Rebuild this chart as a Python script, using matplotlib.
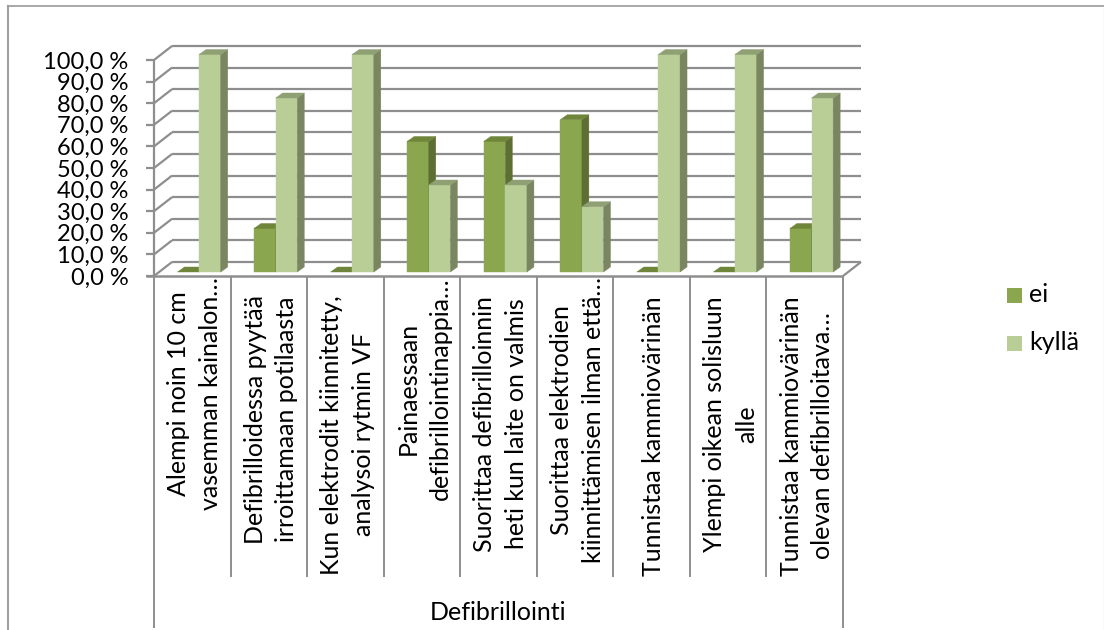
# Defibrillointi: osuus vastauksista (ei / kyllä) kysymyksittäin, 3D-tyylinen pylväskaavio.

import matplotlib
matplotlib.use('Agg')
import matplotlib.pyplot as plt
from matplotlib.patches import Polygon, Rectangle

plt.rcParams['font.family'] = ['Lato', 'DejaVu Sans']

kategoriat = [
    'Alempi noin 10 cm\nvasemman kainalon…',
    'Defibrilloidessa pyytää\nirroittamaan potilaasta',
    'Kun elektrodit kiinnitetty,\nanalysoi rytmin VF',
    'Painaessaan\ndefibrillointinappia…',
    'Suorittaa defibrilloinnin\nheti kun laite on valmis',
    'Suorittaa elektrodien\nkiinnittämisen ilman että…',
    'Tunnistaa kammiovärinän',
    'Ylempi oikean solisluun\nalle',
    'Tunnistaa kammiovärinän\nolevan defibrilloitava…',
]
ei = [0, 20, 0, 60, 60, 70, 0, 0, 20]
kylla = [100, 80, 100, 40, 40, 30, 100, 100, 80]
y_tikit = [0, 10, 20, 30, 40, 50, 60, 70, 80, 90, 100]
y_tekstit = ['%d,0 %%' % v for v in y_tikit]

# kategoriatekstien yläreunat pikseleinä
tekstin_ylaosa = [277, 295, 295, 277, 296, 277, 296, 296, 296]

W, H = 1104, 630
HARMAA = '#8e8e8e'

fig = plt.figure(figsize=(W / 100, H / 100), dpi=100)

# Etutaso: akseli kulkee pikseleistä x 154-843, y 276-60
ax = fig.add_axes([154 / W, 1 - 276 / H, (843 - 154) / W, (276 - 60) / H])
ax.set_xlim(0, 9)
ax.set_ylim(0, 100)
ax.axis('off')

# muunnokset: 1 px akselin yksiköissä
px_x = 9 / (843 - 154)
px_y = 100 / (276 - 60)
syv_x, syv_y = 18 * px_x, 14 * px_y


def pinta(kulmat, vari, z=3):
    ax.add_patch(Polygon(kulmat, closed=True, facecolor=vari, edgecolor=vari,
                         linewidth=0.3, clip_on=False, zorder=z))


def viiva(xs, ys, lw=1.6, vari=HARMAA, z=1):
    ax.plot(xs, ys, color=vari, lw=lw, clip_on=False, zorder=z, solid_capstyle='butt')


# taustan ruudukko ja vasen seinä
for v in y_tikit:
    viiva([syv_x, 9 + syv_x], [v + syv_y, v + syv_y])
    viiva([0, syv_x], [v, v + syv_y])
    viiva([-8 * px_x, 0], [v, v])
viiva([0, 0], [0, 100], lw=1.6)
viiva([9, 9 + syv_x], [0, syv_y])

# pylväät
lev = 21.6 * px_x
siirto = 23.5 * px_x
bx, by = 7 * px_x, 5 * px_y
pohja = 4 * px_y


def pylvas(x0, arvo, etu, kylki, katto, z):
    y0 = pohja
    y1 = pohja + arvo * 1.007
    x1 = x0 + lev
    if arvo > 0:
        pinta([(x0, y0), (x1, y0), (x1, y1), (x0, y1)], etu, z)
        pinta([(x1, y0), (x1 + bx, y0 + by), (x1 + bx, y1 + by), (x1, y1)], kylki, z)
    pinta([(x0, y1), (x1, y1), (x1 + bx, y1 + by), (x0 + bx, y1 + by)], katto, z)


for i in range(len(kategoriat)):
    x0 = i + siirto
    pylvas(x0, ei[i], '#8aa64e', '#5e6f33', '#6f8539', 3)
    pylvas(x0 + lev, kylla[i], '#b9ce97', '#7a8561', '#8fa074', 4)

# x-akseli ja kategoriarajat
viiva([-8 * px_x, 9], [0, 0], lw=1.8, z=5)
ala = -(577 - 276) * px_y
for i in range(10):
    pohjaraja = -(628 - 276) * px_y if i in (0, 9) else ala
    viiva([i, i], [0, pohjaraja], lw=1.4, z=5)

# akselien tekstit
for v, t in zip(y_tikit, y_tekstit):
    ax.text(-25.5 * px_x, v - 2 * px_y, t, ha='right', va='center', fontsize=17,
            color='#000000', clip_on=False)

for i, t in enumerate(kategoriat):
    ax.text(i + 0.53, -(tekstin_ylaosa[i] - 276) * px_y, t, rotation=90, ha='center', va='top',
            multialignment='center', fontsize=18, linespacing=1.46, color='#000000', clip_on=False)

ax.text(4.5, -(612 - 276) * px_y, 'Defibrillointi', ha='center', va='center', fontsize=18, color='#000000')

# selite
fig.patches.append(Rectangle((1007 / W, 1 - 303 / H), 15 / W, 15 / H, transform=fig.transFigure,
                             facecolor='#8aa64e', edgecolor='none'))
fig.patches.append(Rectangle((1007 / W, 1 - 351 / H), 15 / W, 15 / H, transform=fig.transFigure,
                             facecolor='#b9ce97', edgecolor='none'))
fig.text(1029 / W, 1 - 295 / H, 'ei', ha='left', va='center', fontsize=18)
fig.text(1029 / W, 1 - 343 / H, 'kyllä', ha='left', va='center', fontsize=18)

# kehys
fig.add_artist(plt.Line2D([8 / W, 8 / W], [0, 1 - 6 / H], color='#a0a0a0', lw=1.5))
fig.add_artist(plt.Line2D([8 / W, 1 / 1], [1 - 6 / H, 1 - 6 / H], color='#9a9a9a', lw=1.2))
fig.add_artist(plt.Line2D([1103.5 / W, 1103.5 / W], [0, 1 - 6 / H], color='#e6e6e6', lw=1.0))

fig.savefig('out.png', dpi=100)
